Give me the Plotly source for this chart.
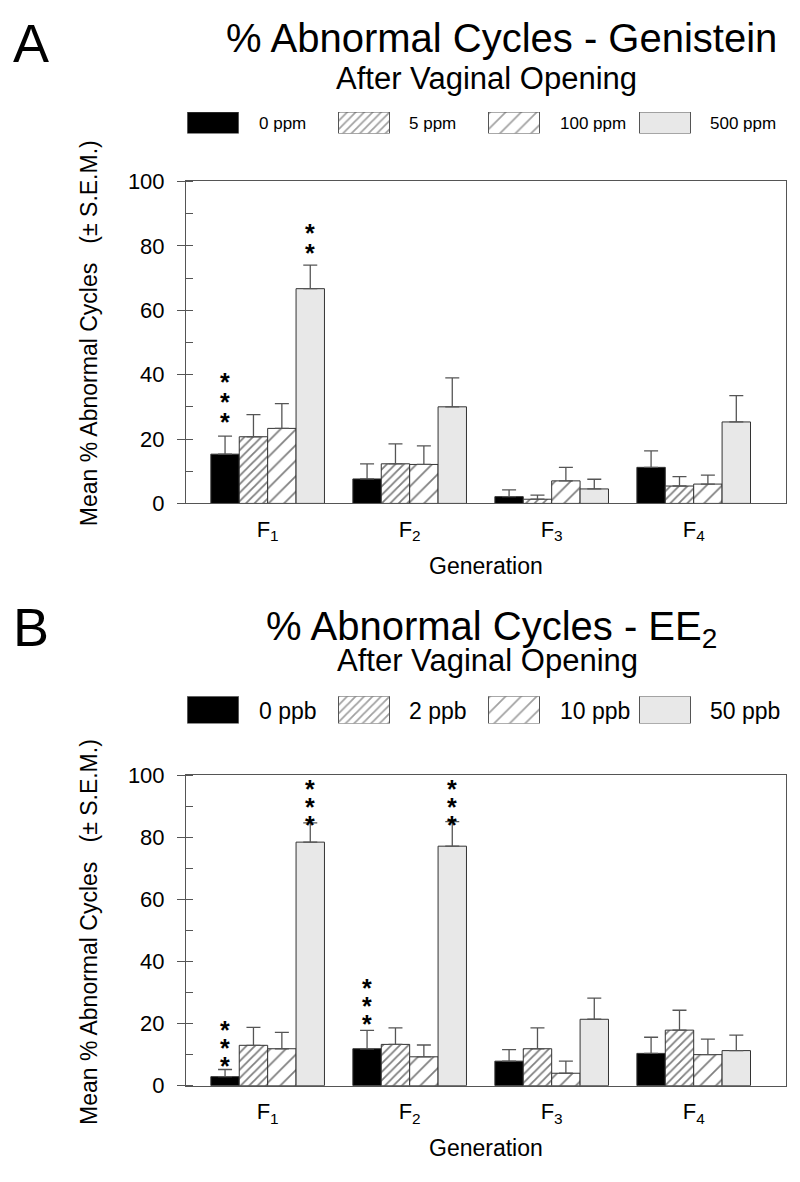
import plotly.graph_objects as go

# ---------------- data ----------------
generations = ["F<sub>1</sub>", "F<sub>2</sub>", "F<sub>3</sub>", "F<sub>4</sub>"]

gen_doses = ["0 ppm", "5 ppm", "100 ppm", "500 ppm"]
gen_0 = [15.3, 7.6, 2.1, 11.2]
gen_0_sem = [5.6, 4.7, 2.1, 5.1]
gen_5 = [20.7, 12.3, 1.3, 5.4]
gen_5_sem = [6.9, 6.2, 1.3, 2.9]
gen_100 = [23.3, 12.1, 7.0, 6.0]
gen_100_sem = [7.7, 5.8, 4.2, 2.8]
gen_500 = [66.7, 30.0, 4.5, 25.3]
gen_500_sem = [7.3, 9.0, 3.0, 8.2]

ee_doses = ["0 ppb", "2 ppb", "10 ppb", "50 ppb"]
ee_0 = [2.9, 11.9, 7.9, 10.4]
ee_0_sem = [2.3, 5.9, 3.7, 5.2]
ee_2 = [13.0, 13.3, 11.9, 17.9]
ee_2_sem = [5.8, 5.3, 6.7, 6.4]
ee_10 = [11.9, 9.3, 4.0, 10.0]
ee_10_sem = [5.3, 3.8, 3.9, 5.0]
ee_50 = [78.5, 77.2, 21.4, 11.3]
ee_50_sem = [6.2, 7.9, 6.8, 5.0]

# significance: (generation index, dose index, number of asterisks)
gen_sig = [(0, 0, 3), (0, 3, 2)]
ee_sig = [(0, 0, 3), (0, 3, 3), (1, 0, 3), (1, 3, 3)]

y_ticks = [0, 20, 40, 60, 80, 100]

# ---------------- style ----------------
PAGE_W, PAGE_H = 800, 1182
BODY = 8                      # default page margin around the plot div
W, H = PAGE_W - 2 * BODY, PAGE_H - 2 * BODY
FONT = "Liberation Sans, Arial, Helvetica, sans-serif"
EDGE = "#333333"
dose_styles = [
    dict(color="black", shape="", size=8, sol=0.2),
    dict(color="white", shape="/", size=6, sol=0.3),
    dict(color="white", shape="/", size=11, sol=0.16),
    dict(color="#e8e8e8", shape="", size=8, sol=0.2),
]
star_gap = {"A": [21, 19], "B": [11, 5, 13, 4]}
star_step = {"A": 20, "B": 18}


def px(x):
    return (x - BODY) / W


def py(y):
    return 1 - (y - BODY) / H


fig = go.Figure()

panels = [
    dict(name="A", xa="x", ya="y", doses=gen_doses,
         vals=[gen_0, gen_5, gen_100, gen_500],
         sems=[gen_0_sem, gen_5_sem, gen_100_sem, gen_500_sem],
         sig=gen_sig, leg_ax=("x3", "y3"), leg_y=(102, 124), leg_font=17),
    dict(name="B", xa="x2", ya="y2", doses=ee_doses,
         vals=[ee_0, ee_2, ee_10, ee_50],
         sems=[ee_0_sem, ee_2_sem, ee_10_sem, ee_50_sem],
         sig=ee_sig, leg_ax=("x4", "y4"), leg_y=(699, 727), leg_font=23),
]

annotations = []
for p in panels:
    for i, (dose, v, s) in enumerate(zip(p["doses"], p["vals"], p["sems"])):
        st = dose_styles[i]
        fig.add_trace(go.Bar(
            x=generations, y=v, name=dose, xaxis=p["xa"], yaxis=p["ya"],
            marker=dict(color=st["color"], line=dict(color=EDGE, width=1),
                        pattern=dict(shape=st["shape"], size=st["size"], solidity=st["sol"],
                                     fgcolor="black", bgcolor=st["color"])),
            error_y=dict(type="data", array=s, arrayminus=[0] * len(s), symmetric=False,
                         color="#555555", thickness=1.3, width=7),
            showlegend=False,
        ))
    for k, (g, d, n) in enumerate(p["sig"]):
        cap = p["vals"][d][g] + p["sems"][d][g]
        for j in range(n):
            annotations.append(dict(
                x=g + (d - 1.5) * 0.2, y=cap, xref=p["xa"], yref=p["ya"],
                text="<b>*</b>", showarrow=False, yanchor="middle",
                yshift=star_gap[p["name"]][k] + j * star_step[p["name"]] - 7,
                font=dict(family=FONT, size=25, color="black"),
            ))
    # legend swatches drawn as bars on a hidden axis measured in page pixels
    lx, lyax = p["leg_ax"]
    fig.add_trace(go.Bar(
        x=[213, 364, 514, 665], y=[1, 1, 1, 1], width=[51, 51, 51, 51],
        xaxis=lx, yaxis=lyax, showlegend=False, hoverinfo="skip",
        marker=dict(color=[s["color"] for s in dose_styles],
                    line=dict(color="#555555", width=1),
                    pattern=dict(shape=[s["shape"] for s in dose_styles],
                                 size=[s["size"] for s in dose_styles],
                                 solidity=[s["sol"] for s in dose_styles],
                                 fgcolor="black",
                                 bgcolor=[s["color"] for s in dose_styles])),
    ))
    ly_c = (p["leg_y"][0] + p["leg_y"][1]) / 2
    for tx, lab in zip([257, 407, 558, 708], p["doses"]):
        annotations.append(dict(
            x=px(tx), y=py(ly_c + 1), xref="paper", yref="paper", text=lab,
            showarrow=False, xanchor="left", yanchor="middle",
            font=dict(family=FONT, size=p["leg_font"], color="black"),
        ))

text_items = [
    ("A", 31, 31, 54),
    ("% Abnormal Cycles - Genistein", 501, 26, 40),
    ("After Vaginal Opening", 486, 68, 31),
    ("B", 31, 628, 54),
    ("% Abnormal Cycles - EE<sub>2</sub>", 491, 630, 40),
    ("After Vaginal Opening", 487, 663, 31),
    ("Generation", 486, 566, 23),
    ("Generation", 486, 1161, 23),
]
for t, x, y, s in text_items:
    annotations.append(dict(
        x=px(x), y=py(y), xref="paper", yref="paper", text=t, showarrow=False,
        xanchor="center", yanchor="middle", font=dict(family=FONT, size=s, color="black"),
    ))
for yc in [328, 940]:
    annotations.append(dict(
        x=px(89), y=py(yc), xref="paper", yref="paper",
        text="Mean % Abnormal Cycles\u00a0\u00a0\u00a0(± S.E.M.)", textangle=-90,
        showarrow=False, xanchor="center", yanchor="middle",
        font=dict(family=FONT, size=23, color="black"),
    ))

xdom = [px(186), px(786)]
xcommon = dict(domain=xdom, type="category", range=[-0.575, 3.65], showline=True,
               mirror=True, linecolor="#555555", linewidth=1, ticks="",
               ticklabelstandoff=6,
               tickfont=dict(family=FONT, size=22, color="black"), showgrid=False,
               zeroline=False, fixedrange=True)
ycommon = dict(range=[0, 100], tickvals=y_ticks, showline=True, mirror=True,
               linecolor="#555555", linewidth=1, ticks="outside", ticklen=8,
               tickcolor="#555555", ticklabelstandoff=8,
               minor=dict(dtick=10, ticks="inside", ticklen=7, tickcolor="#555555"),
               tickfont=dict(family=FONT, size=22, color="black"), showgrid=False,
               zeroline=False, fixedrange=True)
hidden = dict(visible=False, fixedrange=True, showgrid=False, zeroline=False)

fig.update_layout(
    width=W, height=H, margin=dict(l=0, r=0, t=0, b=0),
    paper_bgcolor="white", plot_bgcolor="white",
    barmode="group", bargap=0.2, bargroupgap=0,
    font=dict(family=FONT, color="black"),
    xaxis=dict(**xcommon, anchor="y"),
    yaxis=dict(**ycommon, domain=[py(502), py(173)], anchor="x"),
    xaxis2=dict(**xcommon, anchor="y2"),
    yaxis2=dict(**ycommon, domain=[py(1097), py(780)], anchor="x2"),
    xaxis3=dict(**hidden, domain=[0, 1], range=[BODY, BODY + W], anchor="y3"),
    yaxis3=dict(**hidden, domain=[py(124), py(102)], range=[0, 1], anchor="x3"),
    xaxis4=dict(**hidden, domain=[0, 1], range=[BODY, BODY + W], anchor="y4"),
    yaxis4=dict(**hidden, domain=[py(727), py(699)], range=[0, 1], anchor="x4"),
    annotations=annotations,
    showlegend=False,
)

fig.write_html("out.html")
